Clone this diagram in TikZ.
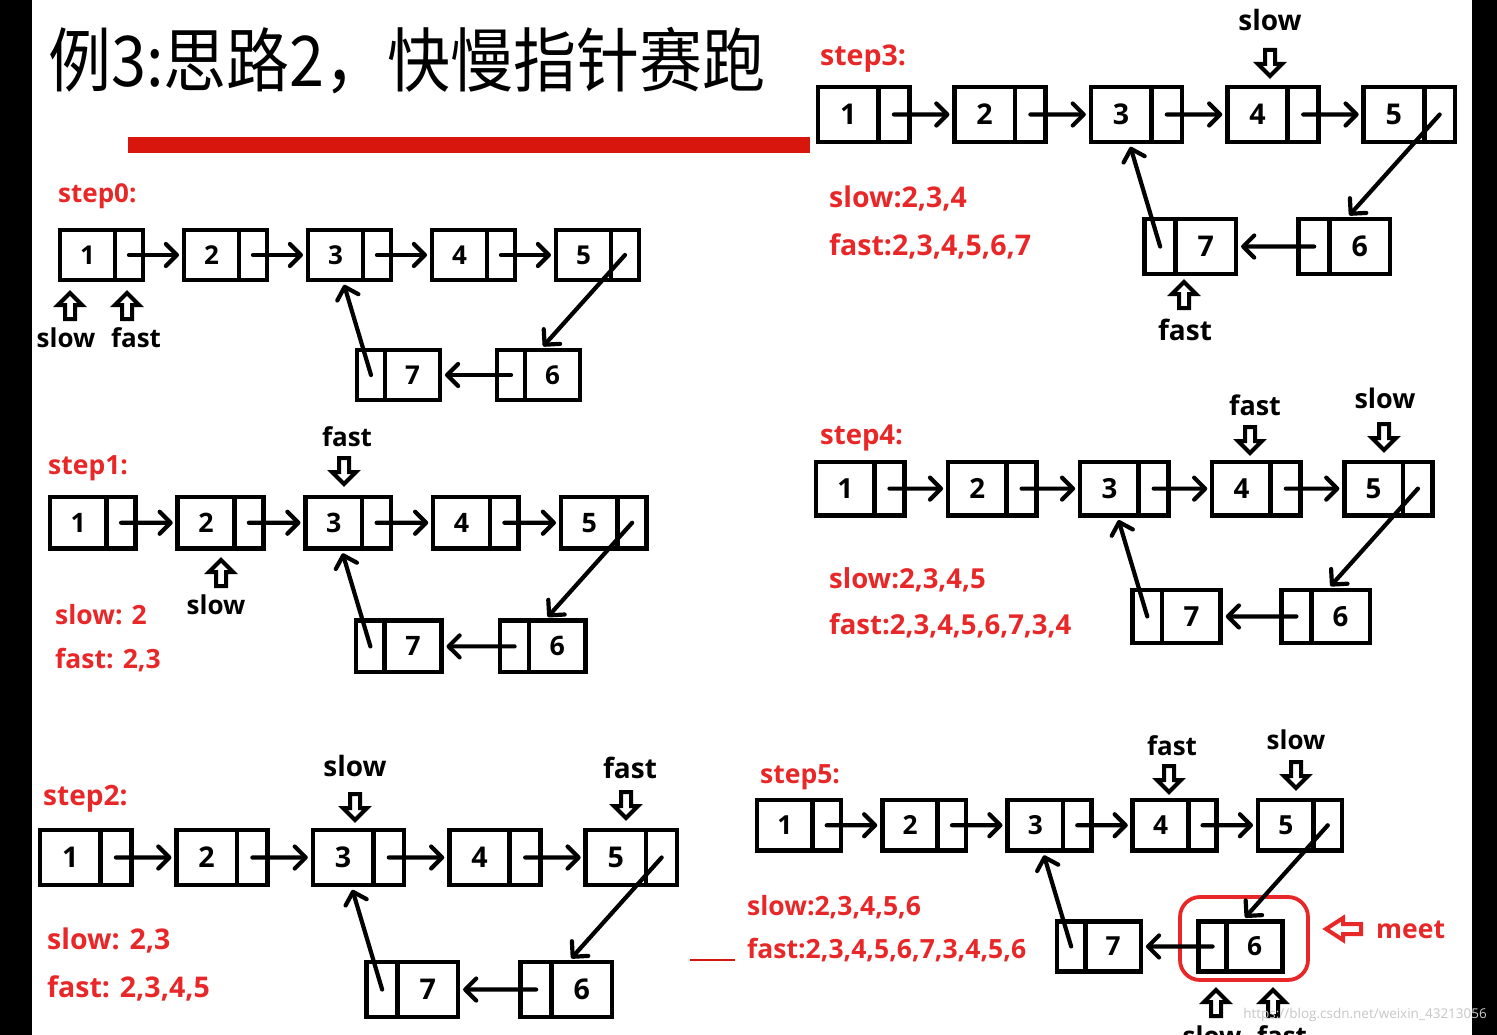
\documentclass[tikz,border=0pt]{standalone}
\usepackage{fontspec}
\setmainfont{Open Sans}
\newfontfamily\cjkfont{Noto Sans CJK SC}
\usetikzlibrary{positioning,calc,arrows.meta}
\definecolor{barred}{RGB}{216,22,14}
\definecolor{txtred}{RGB}{232,40,40}
\tikzset{
  val/.style={draw, line width=4.6pt, minimum width=55pt, minimum height=50pt, inner sep=0pt, outer sep=0pt, font=\bfseries\fontsize{26}{26}\selectfont},
  nxt/.style={draw, line width=4.6pt, minimum width=28pt, minimum height=50pt, inner sep=0pt, outer sep=0pt},
  link/.style={line width=4.2pt, line cap=round, -{Straight Barb[length=11pt,width=22pt,round]}, shorten >=5pt},
  hollow/.style={line width=4pt, line join=miter, fill=white},
  ptrup/.pic={\draw[hollow] (0,0) -- (12,12) -- (5,12) -- (5,26) -- (-5,26) -- (-5,12) -- (-12,12) -- cycle;},
  redtxt/.style={text=txtred, font=\bfseries\fontsize{#1}{#1}\selectfont, anchor=base west, inner sep=0pt},
  ptrtxt/.style={font=\bfseries\fontsize{#1}{#1}\selectfont, inner sep=0pt},
}
\newcommand{\lstpanel}[4]{%
  \begin{scope}[shift={(#2,#3)}, scale=#4, transform shape]
    \foreach \i in {1,...,5} {
      \node[val] (#1v\i) at ({(\i-1)*124+27.5},25) {\i};
      \node[nxt, right=0pt of #1v\i] (#1n\i) {};
    }
    \node[nxt] (#1n7) at (311,145) {};
    \node[val, right=0pt of #1n7] (#1v7) {7};
    \node[nxt] (#1n6) at (451,145) {};
    \node[val, right=0pt of #1n6] (#1v6) {6};
    \foreach \i [count=\j from 2] in {1,...,4}
      \draw[link] (#1n\i.center) -- (#1v\j.west);
    \draw[link] (#1n5.center) -- ($(#1v6.north west)!0.27!(#1v6.north east)$);
    \draw[link] (#1n6.center) -- (#1v7.east);
    \draw[link] (#1n7.center) -- ($(#1v3.south west)!0.63!(#1v3.south east)$);
  \end{scope}}

\begin{document}
\begin{tikzpicture}[x=1pt, y=-1pt]
\useasboundingbox (0,0) rectangle (1497,1035);
\clip (0,0) rectangle (1497,1035);
\fill[white] (0,0) rectangle (1497,1035);
\fill (0,0) rectangle (32,1035);
\fill (1472,0) rectangle (1497,1035);

\node[font=\cjkfont\fontsize{70}{70}\selectfont, anchor=west, inner sep=0pt, xscale=0.9] (title) at (48,61) {例3:思路2，快慢指针赛跑};
\fill[barred] (128,137) rectangle (810,153);
\draw[barred, line width=1.3pt] (690,960) -- (735,960);

% step0
\lstpanel{a}{60}{230}{1}
\node[redtxt=26] (t0) at (58,203) {step0:};
\pic at (70,293) {ptrup};
\pic at (127,293) {ptrup};
\node[ptrtxt=26] (slow0) at (66,338) {slow};
\node[ptrtxt=26] (fast0) at (136,338) {fast};

% step1
\lstpanel{b}{50}{497}{1.03}
\node[redtxt=26.5] (t1) at (48,474) {step1:};
\node[ptrtxt=26] (fast1) at (347,437) {fast};
\pic[rotate=180] at (344,484) {ptrup};
\pic at (221,560) {ptrup};
\node[ptrtxt=26] (slow1) at (216,605) {slow};
\node[redtxt=26.5] (s1) at (55,624) {slow: 2};
\node[redtxt=26.5] (f1) at (55,668) {fast: 2,3};

% step2
\lstpanel{c}{40}{830}{1.1}
\node[redtxt=28] (t2) at (43,805) {step2:};
\node[ptrtxt=28] (slow2) at (355,766) {slow};
\pic[rotate=180] at (355,820) {ptrup};
\node[ptrtxt=28] (fast2) at (630,768) {fast};
\pic[rotate=180] at (626,818) {ptrup};
\node[redtxt=28.5] (s2) at (47,949) {slow: 2,3};
\node[redtxt=28.5] (f2) at (47,997) {fast: 2,3,4,5};

% step3
\lstpanel{d}{818}{87}{1.1}
\node[redtxt=28.5] (t3) at (820,66) {step3:};
\node[ptrtxt=28] (slow3) at (1270,20) {slow};
\pic[rotate=180] at (1270,76) {ptrup};
\pic at (1184,282) {ptrup};
\node[ptrtxt=28] (fast3) at (1185,330) {fast};
\node[redtxt=28.5] (s3) at (829,208) {slow:2,3,4};
\node[redtxt=28.5] (f3) at (829,255) {fast:2,3,4,5,6,7};

% step4
\lstpanel{e}{816}{462}{1.065}
\node[redtxt=27.5] (t4) at (820,444) {step4:};
\node[ptrtxt=27] (fast4) at (1255,405) {fast};
\pic[rotate=180] at (1250,453) {ptrup};
\node[ptrtxt=27] (slow4) at (1385,398) {slow};
\pic[rotate=180] at (1384,450) {ptrup};
\node[redtxt=27.5] (s4) at (829,588) {slow:2,3,4,5};
\node[redtxt=27.5] (f4) at (829,634) {fast:2,3,4,5,6,7,3,4};

% step5
\draw[txtred, line width=3.8pt, rounded corners=20pt] (1180,897) rectangle (1308,980);
\lstpanel{f}{757}{800}{1.01}
\node[redtxt=26.5] (t5) at (760,783) {step5:};
\node[ptrtxt=26] (fast5) at (1172,746) {fast};
\pic[rotate=180] at (1169,792) {ptrup};
\node[ptrtxt=26] (slow5) at (1296,740) {slow};
\pic[rotate=180] at (1296,788) {ptrup};
\node[redtxt=26.5] (s5) at (747,915) {slow:2,3,4,5,6};
\node[redtxt=26.5] (f5) at (747,958) {fast:2,3,4,5,6,7,3,4,5,6};
\draw[hollow, draw=txtred] (1326,929) -- (1343,918) -- (1343,924) -- (1361,924) -- (1361,934) -- (1343,934) -- (1343,940) -- cycle;
\node[redtxt=26.5] (meet) at (1376,938) {meet};
\pic at (1216,990) {ptrup};
\pic at (1273,990) {ptrup};
\node[ptrtxt=26] (slow5b) at (1212,1036) {slow};
\node[ptrtxt=26] (fast5b) at (1282,1036) {fast};
\node[font=\fontsize{13.5}{13.5}\selectfont, text=black!22, anchor=east, inner sep=0pt] (wm) at (1487,1015) {https://blog.csdn.net/weixin\_43213056};
\end{tikzpicture}
\end{document}
